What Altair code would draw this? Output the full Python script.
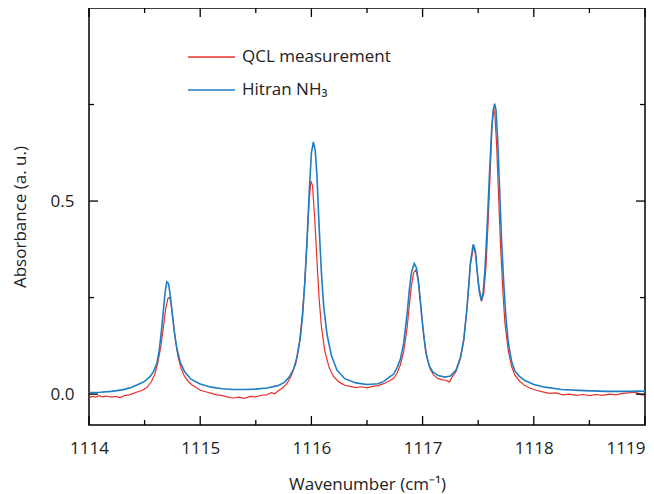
import altair as alt
import pandas as pd

# ---------------- data ----------------
hitran_x = [1114.00, 1114.10, 1114.20, 1114.30, 1114.38, 1114.45, 1114.50, 1114.55, 1114.58, 1114.61,
            1114.63, 1114.65, 1114.67, 1114.685, 1114.70, 1114.715, 1114.73, 1114.75, 1114.77, 1114.79,
            1114.82, 1114.86, 1114.92, 1115.00, 1115.10, 1115.20, 1115.30, 1115.40, 1115.50, 1115.60,
            1115.70, 1115.76, 1115.80, 1115.84, 1115.87, 1115.90, 1115.92, 1115.94, 1115.96, 1115.98,
            1116.00, 1116.018, 1116.035, 1116.05, 1116.07, 1116.09, 1116.11, 1116.14, 1116.18, 1116.23,
            1116.30, 1116.40, 1116.50, 1116.60, 1116.65, 1116.70, 1116.74, 1116.77, 1116.80, 1116.83,
            1116.86, 1116.88, 1116.90, 1116.925, 1116.945, 1116.965, 1116.99, 1117.01, 1117.03, 1117.06,
            1117.09, 1117.14, 1117.20, 1117.25, 1117.30, 1117.34, 1117.37, 1117.40, 1117.43, 1117.455,
            1117.475, 1117.49, 1117.51, 1117.528, 1117.545, 1117.56, 1117.58, 1117.60, 1117.62, 1117.635,
            1117.648, 1117.66, 1117.675, 1117.69, 1117.71, 1117.73, 1117.75, 1117.77, 1117.80, 1117.83,
            1117.87, 1117.92, 1118.00, 1118.10, 1118.25, 1118.45, 1118.65, 1118.85, 1118.95, 1119.00]
hitran_y = [0.004, 0.005, 0.007, 0.011, 0.017, 0.026, 0.033, 0.046, 0.058, 0.080,
            0.110, 0.160, 0.220, 0.265, 0.291, 0.287, 0.258, 0.205, 0.155, 0.118,
            0.083, 0.058, 0.038, 0.026, 0.018, 0.014, 0.012, 0.012, 0.013, 0.016,
            0.022, 0.031, 0.044, 0.065, 0.095, 0.145, 0.200, 0.285, 0.395, 0.520,
            0.625, 0.653, 0.630, 0.565, 0.430, 0.315, 0.230, 0.155, 0.100, 0.062,
            0.040, 0.029, 0.025, 0.027, 0.033, 0.044, 0.052, 0.068, 0.090, 0.132,
            0.205, 0.268, 0.316, 0.338, 0.327, 0.285, 0.208, 0.152, 0.106, 0.073,
            0.058, 0.048, 0.044, 0.047, 0.062, 0.095, 0.140, 0.225, 0.340, 0.388,
            0.370, 0.320, 0.265, 0.242, 0.265, 0.320, 0.430, 0.560, 0.680, 0.735,
            0.752, 0.735, 0.660, 0.550, 0.400, 0.285, 0.195, 0.135, 0.085, 0.060,
            0.046, 0.035, 0.025, 0.018, 0.012, 0.009, 0.007, 0.007, 0.008, 0.007]

qcl_x = [1114.00, 1114.03, 1114.06, 1114.09, 1114.12, 1114.16, 1114.20, 1114.24, 1114.28, 1114.32,
         1114.36, 1114.40, 1114.44, 1114.48, 1114.52, 1114.56, 1114.59, 1114.62, 1114.645, 1114.67,
         1114.69, 1114.71, 1114.725, 1114.74, 1114.76, 1114.78, 1114.80, 1114.83, 1114.86, 1114.89,
         1114.92, 1114.96, 1115.00, 1115.05, 1115.10, 1115.15, 1115.20, 1115.25, 1115.30, 1115.35,
         1115.40, 1115.45, 1115.50, 1115.55, 1115.60, 1115.64, 1115.67, 1115.70, 1115.74, 1115.78,
         1115.82, 1115.86, 1115.89, 1115.92, 1115.94, 1115.96, 1115.98, 1115.995, 1116.01, 1116.03,
         1116.05, 1116.07, 1116.09, 1116.12, 1116.16, 1116.20, 1116.25, 1116.30, 1116.35, 1116.40,
         1116.45, 1116.50, 1116.55, 1116.60, 1116.65, 1116.70, 1116.74, 1116.77, 1116.80, 1116.83,
         1116.86, 1116.88, 1116.90, 1116.92, 1116.94, 1116.96, 1116.98, 1117.00, 1117.02, 1117.04,
         1117.07, 1117.10, 1117.14, 1117.18, 1117.21, 1117.24, 1117.26, 1117.30, 1117.34, 1117.37,
         1117.40, 1117.43, 1117.46, 1117.48, 1117.50, 1117.53, 1117.55, 1117.57, 1117.59, 1117.61,
         1117.625, 1117.638, 1117.65, 1117.665, 1117.68, 1117.70, 1117.72, 1117.74, 1117.77, 1117.80,
         1117.83, 1117.87, 1117.92, 1117.97, 1118.02, 1118.08, 1118.14, 1118.20, 1118.26, 1118.32,
         1118.38, 1118.44, 1118.50, 1118.56, 1118.62, 1118.68, 1118.74, 1118.80, 1118.86, 1118.90,
         1118.94, 1118.97, 1119.00]
qcl_y = [-0.009, -0.006, -0.008, -0.004, -0.007, -0.005, -0.008, -0.006, -0.009, -0.004,
         -0.002, 0.002, 0.006, 0.010, 0.017, 0.032, 0.050, 0.082, 0.122, 0.175,
         0.222, 0.248, 0.251, 0.230, 0.182, 0.135, 0.097, 0.065, 0.045, 0.034,
         0.025, 0.018, 0.010, 0.006, 0.002, -0.002, -0.004, -0.008, -0.010, -0.008,
         -0.011, -0.006, -0.007, -0.003, -0.002, 0.004, 0.001, 0.008, 0.016, 0.027,
         0.048, 0.080, 0.128, 0.210, 0.290, 0.390, 0.500, 0.552, 0.540, 0.455,
         0.345, 0.245, 0.175, 0.112, 0.068, 0.045, 0.031, 0.023, 0.020, 0.017,
         0.019, 0.016, 0.020, 0.022, 0.027, 0.034, 0.041, 0.054, 0.076, 0.110,
         0.170, 0.228, 0.282, 0.315, 0.322, 0.297, 0.240, 0.180, 0.130, 0.094,
         0.064, 0.049, 0.040, 0.037, 0.036, 0.031, 0.042, 0.058, 0.092, 0.140,
         0.225, 0.335, 0.385, 0.355, 0.290, 0.240, 0.260, 0.330, 0.450, 0.590,
         0.700, 0.740, 0.725, 0.650, 0.540, 0.390, 0.275, 0.185, 0.113, 0.072,
         0.049, 0.034, 0.022, 0.015, 0.010, 0.006, 0.002, 0.003, -0.002, 0.000,
         -0.003, -0.001, -0.004, -0.001, -0.003, 0.000, -0.002, 0.002, 0.003, 0.005,
         0.002, -0.002, -0.002]

series_names = ["QCL measurement", "Hitran NH₃"]
series_colors = ["#e8312b", "#1f7dc4"]

x_major = [1114, 1115, 1116, 1117, 1118, 1119]
x_minor = [1114.5, 1115.5, 1116.5, 1117.5, 1118.5]
y_major = [0.0, 0.5]
y_minor = [0.25, 0.75]

X_DOMAIN = [1114, 1119]
Y_DOMAIN = [-0.08, 1.0]

W, H = 556, 417
FONT = "Open Sans"
TXT = "#222222"

# ---------------- chart ----------------
xs = alt.Scale(domain=X_DOMAIN, nice=False, zero=False)
ys = alt.Scale(domain=Y_DOMAIN, nice=False, zero=False)

qcl_df = pd.DataFrame({"x": qcl_x, "y": qcl_y})
hit_df = pd.DataFrame({"x": hitran_x, "y": hitran_y})

x_axis = alt.Axis(values=x_major, ticks=False, domain=False, grid=False,
                  labelFont=FONT, labelFontSize=17, labelColor=TXT, labelPadding=15,
                  labelAlign=alt.ExprRef("datum.value == 1119 ? 'right' : 'center'"),
                  title="Wavenumber (cm⁻¹)", titleFont=FONT, titleFontSize=17,
                  titleFontWeight="normal", titleColor=TXT, titlePadding=20, format="d")
y_axis = alt.Axis(values=y_major, ticks=False, domain=False, grid=False, format=".1f",
                  labelFont=FONT, labelFontSize=17, labelColor=TXT, labelPadding=15,
                  title="Absorbance (a. u.)", titleFont=FONT, titleFontSize=17,
                  titleFontWeight="normal", titleColor=TXT,
                  titleX=-69, titleY=H / 2, titleAngle=-90, titleAlign="center",
                  titleBaseline="middle")

red_line = alt.Chart(qcl_df).mark_line(color=series_colors[0], strokeWidth=1.2, clip=True).encode(
    x=alt.X("x:Q", scale=xs, axis=x_axis),
    y=alt.Y("y:Q", scale=ys, axis=y_axis),
)
blue_line = alt.Chart(hit_df).mark_line(color=series_colors[1], strokeWidth=1.6, clip=True).encode(
    x=alt.X("x:Q", scale=xs, axis=None),
    y=alt.Y("y:Q", scale=ys, axis=None),
)

def xticks(vals, length):
    d = pd.DataFrame({"v": vals})
    bottom = alt.Chart(d).mark_rule(color="black", strokeWidth=1.3).encode(
        x=alt.X("v:Q", scale=xs, axis=None), y=alt.value(H), y2=alt.value(H - length))
    top = alt.Chart(d).mark_rule(color="black", strokeWidth=1.3).encode(
        x=alt.X("v:Q", scale=xs, axis=None), y=alt.value(0), y2=alt.value(length))
    return [bottom, top]

def yticks(vals, length):
    d = pd.DataFrame({"v": vals})
    left = alt.Chart(d).mark_rule(color="black", strokeWidth=1.3).encode(
        y=alt.Y("v:Q", scale=ys, axis=None), x=alt.value(0), x2=alt.value(length))
    right = alt.Chart(d).mark_rule(color="black", strokeWidth=1.3).encode(
        y=alt.Y("v:Q", scale=ys, axis=None), x=alt.value(W), x2=alt.value(W - length))
    return [left, right]

tick_layers = xticks(x_major, 9) + xticks(x_minor, 5) + yticks(y_major, 9) + yticks(y_minor, 5)

# legend (drawn by hand as in the reference)
one = pd.DataFrame({"a": [0]})
legend_layers = []
for i, (name, col) in enumerate(zip(series_names, series_colors)):
    yy = 49 + i * 33
    legend_layers.append(
        alt.Chart(one).mark_rule(color=col, strokeWidth=1.5).encode(
            x=alt.value(99), x2=alt.value(146), y=alt.value(yy)))
    legend_layers.append(
        alt.Chart(one).mark_text(text=name, align="left", baseline="middle", font=FONT,
                                 fontSize=17, color=TXT).encode(
            x=alt.value(153), y=alt.value(yy)))

chart = alt.layer(red_line, blue_line, *tick_layers, *legend_layers).properties(
    width=W, height=H,
    padding={"left": 81, "top": 0, "right": 1, "bottom": 70},
    autosize=alt.AutoSizeParams(type="none"),
).resolve_axis(x="independent", y="independent").configure_view(stroke="black", strokeWidth=1.5)

chart.save("out.html", embed_options={"renderer": "svg", "actions": False})
